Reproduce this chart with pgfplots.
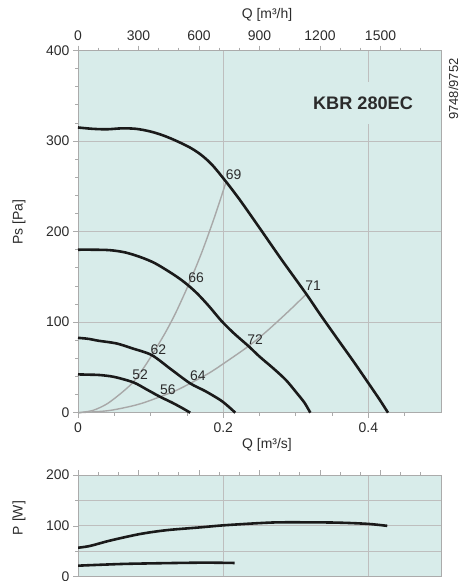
\documentclass[border=0pt]{standalone}
\usepackage{fontspec}
\setmainfont{Liberation Sans}
\usepackage{pgfplots}
\pgfplotsset{compat=1.18}
\definecolor{bg}{HTML}{D8ECEA}
\definecolor{gridc}{HTML}{BEBEBE}
\definecolor{framec}{HTML}{ABABAB}
\definecolor{txt}{HTML}{2B2B2B}
\definecolor{sysc}{HTML}{A8A8A8}
\definecolor{crv}{HTML}{1A1A1A}
\begin{document}
\begin{tikzpicture}[x=1bp,y=1bp]
\useasboundingbox (0,0) rectangle (461,-581);
\pgfplotsset{
  every axis/.append style={
    scale only axis, width=363bp,
    font=\fontsize{14}{16}\selectfont,
    /pgf/number format/assume math mode=true,
    /pgf/number format/1000 sep={},
    tick align=outside,
    axis line style={framec, line width=0.8pt},
    tick style={framec, line width=0.7pt},
    major tick length=5bp, minor tick length=3bp,
    tick label style={text=txt},
    major grid style={gridc, line width=0.8pt},
    minor grid style={gridc, line width=0.8pt},
  },
}
% ---------- top main axis
\begin{axis}[at={(78bp,-412.7bp)}, anchor=south west, height=362.2bp,
  xmin=0, xmax=0.5, ymin=0, ymax=400,
  xtick={0,0.2,0.4}, xticklabels={0,0.2,0.4},
  minor xtick={0.05,0.1,0.15,0.25,0.3,0.35,0.45},
  ytick={0,100,200,300,400},
  minor ytick={20,40,60,80,120,140,160,180,220,240,260,280,320,340,360,380},
  xtick pos=lower, ytick pos=left,
  xmajorgrids, ymajorgrids,
  axis background/.style={fill=bg},
  xticklabel style={yshift=-2bp},
  clip=false]
\addplot[sysc, line width=1.4pt, smooth] coordinates {(0,0)(0.02,2.4)(0.04,9.8)(0.06,22)(0.0763,34)(0.09,49)(0.1016,63.3)(0.12,88)(0.135,111)(0.152,141)(0.17,176)(0.188,216)(0.204,255)};
\addplot[sysc, line width=1.4pt, smooth] coordinates {(0,0)(0.04,2.1)(0.07,6.6)(0.09,10.9)(0.113,17.6)(0.135,24.5)(0.1545,32.4)(0.18,43.5)(0.2,54)(0.2349,73.5)(0.26,90)(0.29,112)(0.3145,131)};
\addplot[crv, line width=2.6pt, smooth] coordinates {(0,315)(0.02,313.5)(0.04,313)(0.06,314)(0.08,313.5)(0.1,310.5)(0.118,306)(0.136,300)(0.155,292.5)(0.17,284.5)(0.185,273.5)(0.204,255)(0.2234,234.5)(0.251,203)(0.28,169.5)(0.3145,131)(0.334,108)(0.36,78.5)(0.38,56)(0.398,35)(0.415,15)(0.427,0)};
\addplot[crv, line width=2.6pt, smooth] coordinates {(0,180)(0.02,180)(0.044,179.5)(0.065,177)(0.0855,172)(0.105,165.5)(0.125,156)(0.14,148)(0.152,140.5)(0.165,131)(0.18,118)(0.198,101)(0.215,87.5)(0.2349,73.5)(0.25,62)(0.269,49)(0.2865,36)(0.3017,21.4)(0.312,11)(0.32,0)};
\addplot[crv, line width=2.6pt, smooth] coordinates {(0,82.7)(0.015,81.5)(0.028,79.5)(0.053,76.5)(0.075,71)(0.1016,63.6)(0.128,48)(0.1545,32.4)(0.175,24)(0.196,14)(0.207,7)(0.2166,0)};
\addplot[crv, line width=2.6pt, smooth] coordinates {(0,42.3)(0.015,42)(0.03,41.6)(0.05,39.5)(0.0763,33.5)(0.095,25.5)(0.113,17.6)(0.13,11)(0.145,4.5)(0.1545,0)};
\begin{scope}[every node/.style={text=txt, inner sep=0pt, font=\fontsize{14}{16}\selectfont}]
\node at (axis cs:0.2142,263) {69};
\node at (axis cs:0.1628,149) {66};
\node at (axis cs:0.1108,70) {62};
\node at (axis cs:0.0855,41.6) {52};
\node at (axis cs:0.1237,25) {56};
\node at (axis cs:0.165,40.5) {64};
\node at (axis cs:0.244,81) {72};
\node at (axis cs:0.3237,140.8) {71};
\end{scope}
\node[fill=bg, inner xsep=3bp, minimum height=42bp, text=txt, font=\fontsize{18.2}{20}\selectfont\bfseries] at (axis cs:0.3926,342) {KBR 280EC};
\end{axis}
% ---------- top overlay (m3/h)
\begin{axis}[at={(78bp,-412.7bp)}, anchor=south west, height=362.2bp,
  xmin=0, xmax=1800, ymin=0, ymax=400,
  axis x line*=top, hide y axis,
  xtick={0,300,600,900,1200,1500},
  minor xtick={100,200,400,500,700,800,1000,1100,1300,1400,1600,1700},
  xticklabel style={yshift=1bp}]
\addplot[draw=none] coordinates {(0,0)};
\end{axis}
% ---------- bottom main axis
\begin{axis}[at={(78bp,-576.7bp)}, anchor=south west, height=101.7bp,
  xmin=0, xmax=0.5, ymin=0, ymax=200,
  xtick={0.2,0.4}, xticklabels={}, major x tick style={draw=none},
  ytick={0,100,200}, minor ytick={50,150},
  xtick pos=lower, ytick pos=left,
  xmajorgrids, ymajorgrids, yminorgrids,
  axis background/.style={fill=bg}]
\addplot[crv, line width=2.6pt, smooth] coordinates {(0,57)(0.0166,60.5)(0.044,71)(0.0855,84)(0.122,91.5)(0.168,97)(0.2,101)(0.251,105.5)(0.283,107)(0.352,106.5)(0.398,104)(0.426,100)};
\addplot[crv, line width=2.6pt, smooth] coordinates {(0,21.7)(0.04,24)(0.0763,25.6)(0.168,27.6)(0.2156,27)};
\end{axis}
% ---------- bottom overlay (m3/h ticks on top)
\begin{axis}[at={(78bp,-576.7bp)}, anchor=south west, height=101.7bp,
  xmin=0, xmax=1800, ymin=0, ymax=200,
  axis x line*=top, hide y axis,
  xtick={0,300,600,900,1200,1500},
  minor xtick={100,200,400,500,700,800,1000,1100,1300,1400,1600,1700},
  xticklabels={}]
\addplot[draw=none] coordinates {(0,0)};
\end{axis}
% ---------- labels
\begin{scope}[every node/.style={text=txt, font=\fontsize{14}{16}\selectfont, inner sep=0pt}]
\node at (267,-15) {Q [m³/h]};
\node at (267,-445) {Q [m³/s]};
\node[rotate=90] at (19,-222) {Ps [Pa]};
\node[rotate=90] at (19,-518) {P [W]};
\node[rotate=90, font=\fontsize{13}{15}\selectfont] at (453.5,-89) {9748/9752};
\end{scope}
\end{tikzpicture}
\end{document}
